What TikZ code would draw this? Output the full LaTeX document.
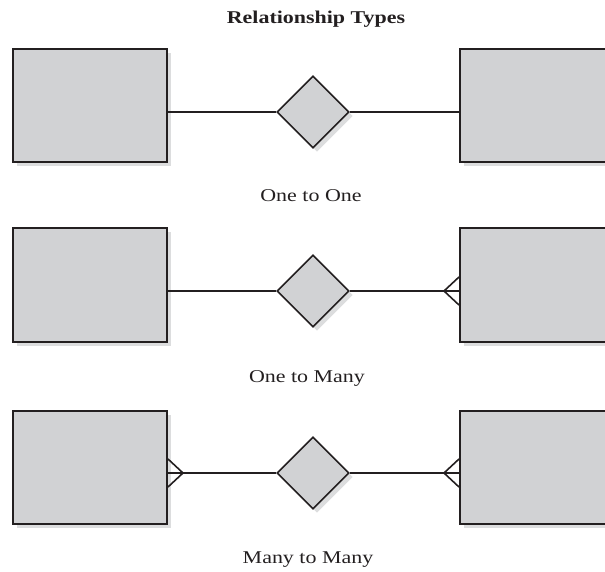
\documentclass[tikz,border=0pt]{standalone}
\usepackage{fontspec}
\setmainfont{Liberation Serif}[FakeStretch=1.22]
\usetikzlibrary{shapes.geometric,shadows}
\definecolor{entfill}{HTML}{D1D2D4}
\definecolor{shade}{HTML}{DCDDDE}
\definecolor{ink}{HTML}{231F20}
\tikzset{
  entity/.style={draw=ink, line width=2pt, fill=entfill, minimum width=154pt, minimum height=113pt,
    inner sep=0pt, drop shadow={shadow xshift=4pt, shadow yshift=-4pt, fill=shade, opacity=1}},
  relation/.style={diamond, draw=ink, line width=1.6pt, fill=entfill, minimum width=72pt, minimum height=72pt,
    inner sep=0pt, drop shadow={shadow xshift=4pt, shadow yshift=-4pt, fill=shade, opacity=1}},
  link/.style={draw=ink, line width=1.6pt},
  caption/.style={font=\fontsize{18}{21}\selectfont, text=ink, inner sep=0pt, anchor=base},
}
\begin{document}
\begin{tikzpicture}[x=1pt,y=-1pt]
  \useasboundingbox (0,0) rectangle (605,572);
  \clip (0,0) rectangle (605,572);

  \node[caption, font=\fontsize{18}{21}\selectfont\bfseries] (title) at (316,24) {Relationship Types};

  % one to one
  \node[entity] (a1) at (90,106) {};
  \node[entity] (b1) at (537,106) {};
  \node[relation] (r1) at (313,112) {};
  \draw[link] (a1.east |- r1) -- (r1.west);
  \draw[link] (r1.east) -- (b1.west |- r1);
  \node[caption] (l1) at (311,202) {One to One};

  % one to many
  \node[entity] (a2) at (90,285) {};
  \node[entity] (b2) at (537,285) {};
  \node[relation] (r2) at (313,291) {};
  \draw[link] (a2.east |- r2) -- (r2.west);
  \draw[link] (r2.east) -- (b2.west |- r2);
  \coordinate (f2) at ([xshift=-15pt]b2.west |- r2);
  \draw[link] ([yshift=-14pt]b2.west |- r2) -- (f2) -- ([yshift=14pt]b2.west |- r2);
  \node[caption] (l2) at (307,382) {One to Many};

  % many to many
  \node[entity] (a3) at (90,467) {};
  \node[entity] (b3) at (537,467) {};
  \node[relation] (r3) at (313,473) {};
  \draw[link] (a3.east |- r3) -- (r3.west);
  \draw[link] (r3.east) -- (b3.west |- r3);
  \coordinate (f3) at ([xshift=-15pt]b3.west |- r3);
  \draw[link] ([yshift=-14pt]b3.west |- r3) -- (f3) -- ([yshift=14pt]b3.west |- r3);
  \coordinate (e3) at ([xshift=15pt]a3.east |- r3);
  \draw[link] ([yshift=-14pt]a3.east |- r3) -- (e3) -- ([yshift=14pt]a3.east |- r3);
  \node[caption] (l3) at (308,563) {Many to Many};
\end{tikzpicture}
\end{document}
